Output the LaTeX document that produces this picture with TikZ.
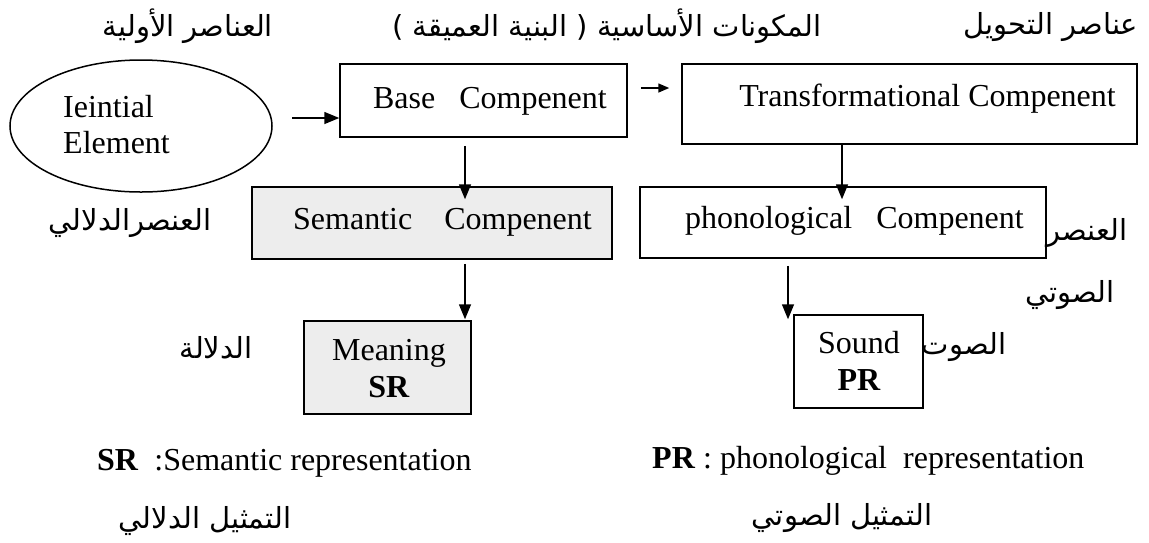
\documentclass[tikz,border=0pt]{standalone}
\usepackage{fontspec}
\setmainfont{Liberation Serif}
\newfontfamily\arabicfont[Script=Arabic]{DejaVu Sans}
\TeXXeTstate=1
\usetikzlibrary{shapes.geometric,arrows.meta}
\begin{document}
\begin{tikzpicture}[x=1pt,y=-1pt,
  box/.style={draw,line width=1.5pt,rectangle,inner sep=0pt},
  shaded/.style={box,fill=black!7},
  lbl/.style={inner sep=0pt,font=\fontsize{32}{36}\selectfont},
  arlbl/.style={inner sep=0pt,font=\arabicfont\fontsize{29}{33}\selectfont},
  arr/.style={line width=1.5pt,-{Triangle[length=15pt,width=12pt]}},
  sarr/.style={line width=1.5pt,-{Triangle[length=11pt,width=9pt]}}]
\useasboundingbox (0,0) rectangle (1149,542);
\fill[white] (0,0) rectangle (1149,542);

% shapes
\node[draw,line width=1.5pt,ellipse,inner sep=0pt,minimum width=262pt,minimum height=132pt] (ell) at (141,126) {};
\node[box,minimum width=287pt,minimum height=73pt] (base) at (483.5,100.5) {};
\node[box,minimum width=455pt,minimum height=80pt] (trans) at (909.5,104) {};
\node[shaded,minimum width=360pt,minimum height=72pt] (sem) at (432,223) {};
\node[box,minimum width=406pt,minimum height=71pt] (phon) at (843,222.5) {};
\node[shaded,minimum width=167pt,minimum height=93pt] (mean) at (387.5,367.5) {};
\node[box,minimum width=129pt,minimum height=93pt] (sound) at (858.5,361.5) {};

% English texts
\node[lbl,anchor=base west] (t1) at (63,117) {Ieintial};
\node[lbl,anchor=base west] (t2) at (63,153) {Element};
\node[lbl,anchor=base east] (t3) at (607,108) {Base\ \ \ Compenent};
\node[lbl,anchor=base east] (t4) at (1116,106) {Transformational Compenent};
\node[lbl,anchor=base east] (t5) at (592,229) {Semantic\ \ \ \ Compenent};
\node[lbl,anchor=base east] (t6) at (1024,228) {phonological\ \ \ Compenent};
\node[lbl,anchor=base] (t7) at (389,360) {Meaning};
\node[lbl,anchor=base] (t8) at (389,397) {\textbf{SR}};
\node[lbl,anchor=base] (t9) at (859,353) {Sound};
\node[lbl,anchor=base] (t10) at (859,390) {\textbf{PR}};
\node[lbl,anchor=base west] (t11) at (97,470) {\textbf{SR}\ \ :Semantic representation};
\node[lbl,anchor=base west] (t12) at (652,468) {\textbf{PR} : phonological\ \ representation};

% Arabic texts
\node[arlbl] (a1) at (188,26) {\beginR العناصر الأولية\endR};
\node[arlbl] (a2) at (607,26) {\beginR المكونات الأساسية ( البنية العميقة )\endR};
\node[arlbl] (a3) at (1051,27) {\beginR عناصر التحويل\endR};
\node[arlbl] (a4) at (130,223) {\beginR العنصرالدلالي\endR};
\node[arlbl] (a5) at (216,348) {\beginR الدلالة\endR};
\node[arlbl] (a6) at (1087,233) {\beginR العنصر\endR};
\node[arlbl] (a7) at (1070,295) {\beginR الصوتي\endR};
\node[arlbl] (a8) at (964,347) {\beginR الصوت\endR};
\node[arlbl] (a9) at (205,521) {\beginR التمثيل الدلالي\endR};
\node[arlbl] (a10) at (842,518) {\beginR التمثيل الصوتي\endR};

% connectors
\coordinate (c1) at (292,118);
\draw[arr] (c1) -- (base.west |- c1);
\draw[sarr,shorten <=13pt,shorten >=12pt] (base.east |- 0,88) -- (trans.west |- 0,88);
\draw[arr,shorten <=8pt,shorten >=-13pt] (base.south -| 465,0) -- (sem.north -| 465,0);
\draw[arr,shorten >=-13pt] (trans.south -| 842,0) -- (phon.north -| 842,0);
\draw[arr,shorten <=4pt,shorten >=1pt] (sem.south -| 465,0) -- (mean.north -| 465,0);
\draw[arr,shorten <=7pt,shorten >=-5pt] (phon.south -| 788,0) -- (sound.north -| 788,0);
\end{tikzpicture}
\end{document}
